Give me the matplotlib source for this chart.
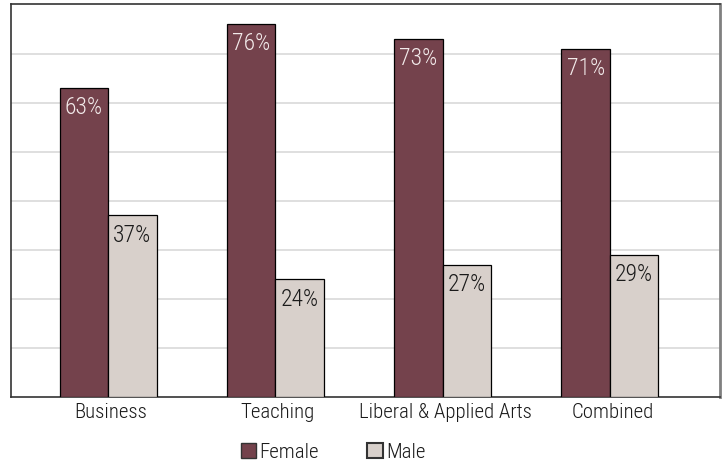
import matplotlib
matplotlib.use("Agg")
import matplotlib.pyplot as plt
from matplotlib import font_manager
from matplotlib.patches import Patch
import numpy as np

categories = ["Business", "Teaching", "Liberal & Applied Arts", "Combined"]
female = [63, 76, 73, 71]
male = [37, 24, 27, 29]
series_names = ["Female", "Male"]

available = {f.name for f in font_manager.fontManager.ttflist}
family = "DejaVu Sans"
for cand in ["Liberation Sans Narrow", "Roboto Condensed", "Roboto", "Liberation Sans"]:
    if cand in available:
        family = cand
        break
plt.rcParams["font.family"] = [family, "DejaVu Sans"]
plt.rcParams["font.weight"] = "light"

FEMALE_C = "#74424C"
MALE_C = "#D8D0CB"

fig = plt.figure(figsize=(7.27, 4.65), dpi=100)
ax = fig.add_axes([11 / 727, 1 - 397 / 465, 709 / 727, 392.5 / 465])

x = np.arange(len(categories))
w = 0.29
bf = ax.bar(x - w / 2 - 0.015, female, w, color=FEMALE_C, edgecolor="black", linewidth=0.9, zorder=3)
bm = ax.bar(x + w / 2 - 0.015, male, w, color=MALE_C, edgecolor="black", linewidth=0.9, zorder=3)

for rect, v in zip(bf, female):
    ax.annotate(f"{v}%", (rect.get_x() + rect.get_width() / 2, v), xytext=(0, -6),
                textcoords="offset points", ha="center", va="top",
                fontsize=17, color="#F2EAEA", zorder=4)
for rect, v in zip(bm, male):
    ax.annotate(f"{v}%", (rect.get_x() + rect.get_width() / 2, v), xytext=(0, -6),
                textcoords="offset points", ha="center", va="top",
                fontsize=17, color="#1a1a1a", zorder=4)

ax.set_ylim(0, 80)
ax.set_xlim(-0.595, 3.643)
ax.set_yticks(np.arange(10, 80, 10))
ax.yaxis.grid(True, color="#D9D9D9", linewidth=1.2, zorder=0)
ax.tick_params(axis="y", left=False, labelleft=False)
ax.tick_params(axis="x", length=0, pad=4, labelsize=15, labelcolor="#1a1a1a")
ax.set_xticks(x)
ax.set_xticklabels(categories)

for side in ["left", "top", "bottom"]:
    ax.spines[side].set_color("#333333")
    ax.spines[side].set_linewidth(1.2)
ax.spines["right"].set_color("#808080")
ax.spines["right"].set_linewidth(2)

handles = [Patch(facecolor=FEMALE_C, edgecolor="#333333", linewidth=1),
           Patch(facecolor=MALE_C, edgecolor="#333333", linewidth=1.5)]
fig.legend(handles, series_names, loc="center", bbox_to_anchor=(333 / 727, 1 - 452 / 465),
           ncol=2, frameon=False, fontsize=15, handlelength=0.75, handleheight=0.75,
           handletextpad=0.15, columnspacing=2.3, labelcolor="#1a1a1a")

fig.savefig("out.png", dpi=100)
